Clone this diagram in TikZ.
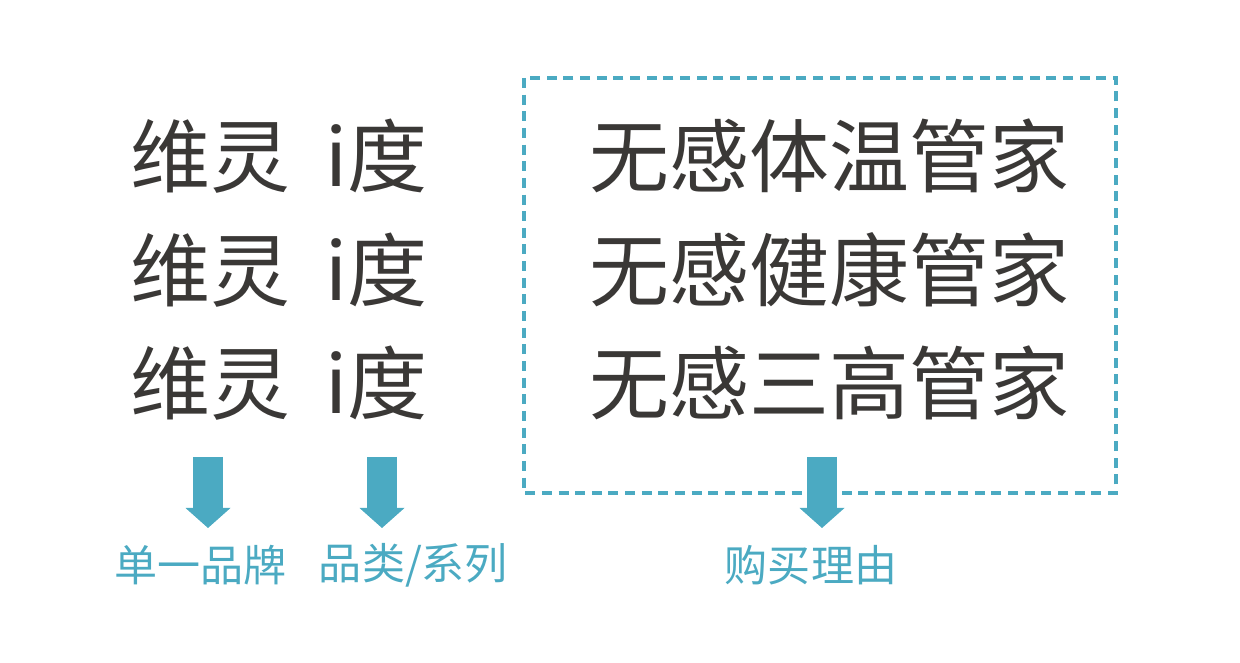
\documentclass[tikz,border=0pt]{standalone}
\usepackage{fontspec}
\setmainfont{Noto Sans CJK SC}
\usetikzlibrary{arrows.meta}
\definecolor{testo}{RGB}{58,56,54}
\definecolor{azzurro}{RGB}{75,170,194}

\begin{document}
\begin{tikzpicture}[
  riga/.style={text=testo, font=\fontsize{45.5}{50}\selectfont, inner sep=0pt},
  etichetta/.style={text=azzurro, font=\fontsize{24.5}{28}\selectfont, inner sep=0pt},
  freccia/.style={azzurro, line width=0.6cm, -{Triangle[width=0.9cm,length=0.4cm,line width=0pt]}},
  cornice/.style={azzurro, line width=0.08cm, dash pattern=on 0.2cm off 0.133cm}
]
\useasboundingbox (0,0) rectangle (24.8,13.26);

%cornice tratteggiata
\draw[cornice] (10.48,11.70) rectangle (22.32,3.40);

%colonna sinistra
\node[riga] (marca1) at (5.58,10.14) {维灵\hspace{0.43em}i度};
\node[riga] (marca2) at (5.58,7.86) {维灵\hspace{0.43em}i度};
\node[riga] (marca3) at (5.58,5.60) {维灵\hspace{0.43em}i度};

%colonna destra
\node[riga] (ragione1) at (16.59,10.14) {无感体温管家};
\node[riga] (ragione2) at (16.59,7.86) {无感健康管家};
\node[riga] (ragione3) at (16.59,5.60) {无感三高管家};

%etichette
\node[etichetta] (marchio) at (4.01,1.96) {单一品牌};
\node[etichetta] (categoria) at (8.27,1.96) {品类/系列};
\node[etichetta] (motivo) at (16.22,1.96) {购买理由};

%frecce
\coordinate (f1a) at (4.16,4.12);
\coordinate (f1b) at (4.16,2.70);
\coordinate (f2a) at (7.64,4.12);
\coordinate (f2b) at (7.64,2.70);
\coordinate (f3a) at (16.44,4.12);
\coordinate (f3b) at (16.44,2.70);

\draw[freccia] (f1a) -- (f1b);
\draw[freccia] (f2a) -- (f2b);
\draw[white, line width=0.8cm] (f3a) -- ++(0,-1);%stacco sulla cornice
\draw[freccia] (f3a) -- (f3b);

\end{tikzpicture}
\end{document}
